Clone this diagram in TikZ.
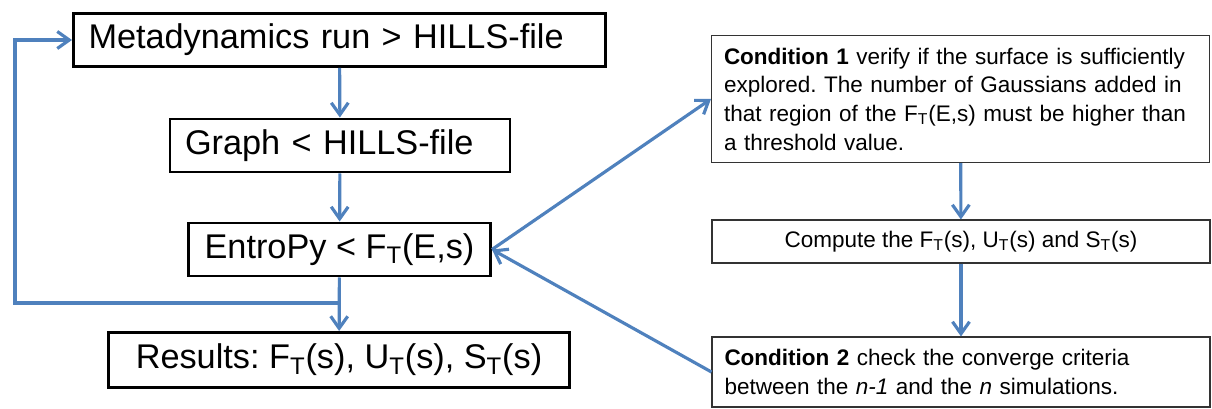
\documentclass[tikz,border=0pt]{standalone}
\usepackage{fontspec}
\setmainfont{Liberation Sans}
\usetikzlibrary{arrows.meta, positioning}
\definecolor{flowblue}{HTML}{4F81BD}
\newcommand{\subT}{\textsubscript{T}}
\frenchspacing

\begin{document}
\begin{tikzpicture}[
    bigbox/.style={draw, line width=1.7pt, minimum height=1.06cm, inner xsep=0.3cm, font=\fontsize{19.5}{23}\selectfont},
    condbox/.style={draw=black!80, line width=0.6pt, minimum width=9.96cm, inner xsep=0.25cm, font=\fontsize{12.8}{16.3}\selectfont},
    flow/.style={-{Straight Barb[length=2.4mm, width=3.4mm]}, draw=flowblue, line width=1.8pt}
]
    \useasboundingbox (0,0) rectangle (24.24,8.16);
    % main loop on the left
    \node[bigbox, text width=10.04cm, align=left] (meta) at (6.79,7.36) {Metadynamics run > HILLS-file};
    \node[bigbox, text width=6.2cm, align=left] (graph) at (6.80,5.25) {Graph < HILLS-file};
    \node[bigbox, minimum width=6.04cm] (entro) at (6.79,3.17) {EntroPy < F\subT(E,s)};
    \node[bigbox, minimum width=9.22cm, minimum height=1.1cm] (res) at (6.78,0.96) {Results: F\subT(s), U\subT(s), S\subT(s)};
    % conditions on the right
    \node[condbox, minimum height=2.54cm, text width=9.46cm, align=left] (cond1) at (19.21,6.18)
        {\hyphenpenalty=10000 \textbf{Condition 1} verify if the surface is sufficiently\\
         explored. The number of Gaussians added in\\
         that region of the F\subT(E,s) must be higher than\\
         a threshold value.};
    \node[condbox, minimum height=0.86cm] (comp) at (19.22,3.33) {Compute the F\subT(s), U\subT(s) and S\subT(s)};
    \node[condbox, minimum height=1.4cm, text width=9.46cm, align=left] (cond2) at (19.22,0.72)
        {\textbf{Condition 2} check the converge criteria\\
         between the \textit{n-1} and the \textit{n} simulations.};

    \coordinate (split) at (entro.south |- 0,2.1);
    \coordinate (back) at (0.3,2.1);

    \draw[flow] (meta) -- (graph);
    \draw[flow] (graph) -- (entro);
    \draw[flow] (entro) -- (res);
    \draw[flow] (split) -- (back) |- (meta.west);

    \draw[flow] (entro.east) -- (cond1.west);
    \draw[flow] (cond1) -- (comp);
    \draw[flow] (comp) -- (cond2);
    \draw[flow] (cond2.west) -- (entro.east);
\end{tikzpicture}
\end{document}
